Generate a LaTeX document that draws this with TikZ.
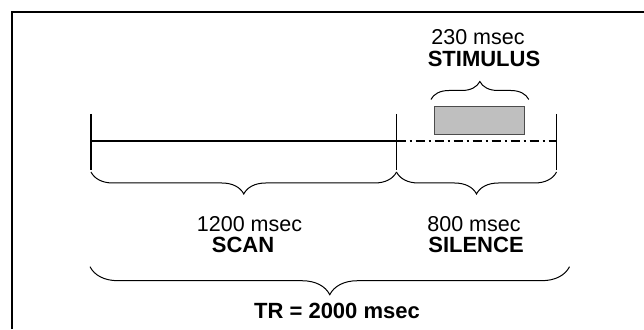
\documentclass[tikz,border=0pt]{standalone}
\usepackage{fontspec}
\setmainfont{Liberation Sans}
\usetikzlibrary{decorations.pathreplacing,positioning}
\tikzset{
  tick/.style={line width=1.4pt},
  curly/.style={decorate, decoration={brace, amplitude=#1}, line width=1pt},
  dur/.style={font=\fontsize{21.5}{25}\selectfont, inner sep=0pt},
  phase/.style={font=\fontsize{22}{26}\selectfont\bfseries, inner sep=0pt},
}

\begin{document}
\begin{tikzpicture}[x=1pt,y=1pt]
\useasboundingbox (0,0) rectangle (644,329);

% Frame
\draw[line width=2pt] (12,0) -- (12,317) -- (644,317);

% Tick marks
\coordinate (t0) at (91,188);
\coordinate (t1) at (396.5,188);
\coordinate (t2) at (556.5,188);
\foreach \t in {t0,t1,t2}
  \draw[tick] ([yshift=27pt]\t) -- ([yshift=-29pt]\t);

% Timeline
\draw[line width=1.3pt] (t0) -- (t1);
\draw[line width=1.6pt, dash pattern=on 9pt off 4pt on 2pt off 4pt] (t1) -- (t2);

% Stimulus box
\node[draw=black!70, fill=black!25, minimum width=90pt, minimum height=27.6pt,
  inner sep=0pt] (stim) at (479.6,208.5) {};

% Braces
\draw[curly=18pt] ([xshift=-3.5pt,yshift=7pt]stim.north west) -- ([xshift=4pt,yshift=7pt]stim.north east);
\draw[curly=22pt] ([yshift=-31pt]t1) -- ([yshift=-31pt]t0);
\draw[curly=22pt] ([yshift=-31pt]t2) -- ([yshift=-31pt]t1);
\draw[curly=28pt] ([xshift=13pt,yshift=-125.7pt]t2) -- ([xshift=-1pt,yshift=-125.7pt]t0);

% Labels
\node[dur] (stimms) at (478,291.5) {230 msec};
\node[phase] (stimlab) at (484,270.3) {STIMULUS};
\node[dur] (scanms) at (249.5,105.3) {1200 msec};
\node[phase] (scan) at (243,83.7) {SCAN};
\node[dur] (silms) at (474,105.3) {800 msec};
\node[phase] (sil) at (476,83.7) {SILENCE};
\node[phase] (tr) at (337,18.5) {TR = 2000 msec};

\end{tikzpicture}
\end{document}
